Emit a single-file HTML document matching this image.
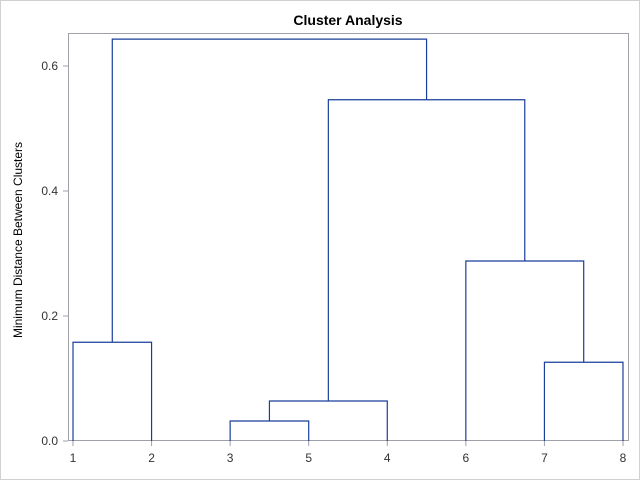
<!DOCTYPE html>
<html><head><meta charset="utf-8"><style>
body{margin:0;background:#fff}
svg{display:block;font-family:"Liberation Sans",sans-serif}
</style></head><body>
<svg id="chart" width="640" height="480">
<rect x="0.5" y="0.5" width="639" height="479" fill="#fff" stroke="#d0d0d0"/>
<text x="348" y="25" text-anchor="middle" font-size="14" font-weight="bold">Cluster Analysis</text>
<text transform="translate(22,240) rotate(-90)" text-anchor="middle" font-size="12">Minimum Distance Between Clusters</text>
<rect x="68.5" y="33.5" width="560" height="407" fill="none" stroke="#a0a0a8"/>
<g id="ticks"></g>
<g id="marks"></g>
</svg>
<script>
const leafLabels = ["1","2","3","5","4","6","7","8"];
// merges: [left node, right node, height]; nodes 0-7 are leaves, 8+ are merges in order
const mergeLeft = [2, 8, 6, 0, 5, 9, 11];
const mergeRight = [3, 4, 7, 1, 10, 12, 13];
const mergeHeights = [0.032, 0.064, 0.126, 0.158, 0.288, 0.546, 0.643];
const yTicks = [0.0, 0.2, 0.4, 0.6];
const yTickLabels = ["0.0", "0.2", "0.4", "0.6"];

const NS = "http://www.w3.org/2000/svg";
const xS = i => 73 + i * 78.57;
const yS = v => 441 - v * 625;
const ticks = document.getElementById("ticks");
const marks = document.getElementById("marks");
function mk(tag, attrs, parent){const e=document.createElementNS(NS,tag);for(const k in attrs)e.setAttribute(k,attrs[k]);parent.appendChild(e);return e;}

yTicks.forEach((v,i)=>{
  const l = mk("line",{x1:63,x2:68,y1:yS(v),y2:yS(v),stroke:"#a0a0a8"},ticks);
  
  
  const t = mk("text",{x:58,y:yS(v)+4,"text-anchor":"end","font-size":"12",fill:"#333"},ticks);
  t.textContent = yTickLabels[i];
  
  
});
leafLabels.forEach((lab,i)=>{
  const l = mk("line",{x1:xS(i),x2:xS(i),y1:441,y2:446,stroke:"#a0a0a8"},ticks);
  
  
  const t = mk("text",{x:xS(i),y:462,"text-anchor":"middle","font-size":"12",fill:"#333"},ticks);
  t.textContent = lab;
  
  
});

const nodeX = leafLabels.map((_,i)=>i);
const nodeH = leafLabels.map(()=>0);
mergeHeights.forEach((h,k)=>{
  const a = mergeLeft[k], b = mergeRight[k];
  const xa = xS(nodeX[a]), xb = xS(nodeX[b]), yh = yS(h);
  const p = mk("path",{d:`M${xa},${yS(nodeH[a])}V${yh}H${xb}V${yS(nodeH[b])}`,fill:"none",stroke:"#1a3f9a","stroke-width":"1.2"},marks);
  
  
  nodeX.push((nodeX[a]+nodeX[b])/2);
  nodeH.push(h);
});
</script>
</body></html>
